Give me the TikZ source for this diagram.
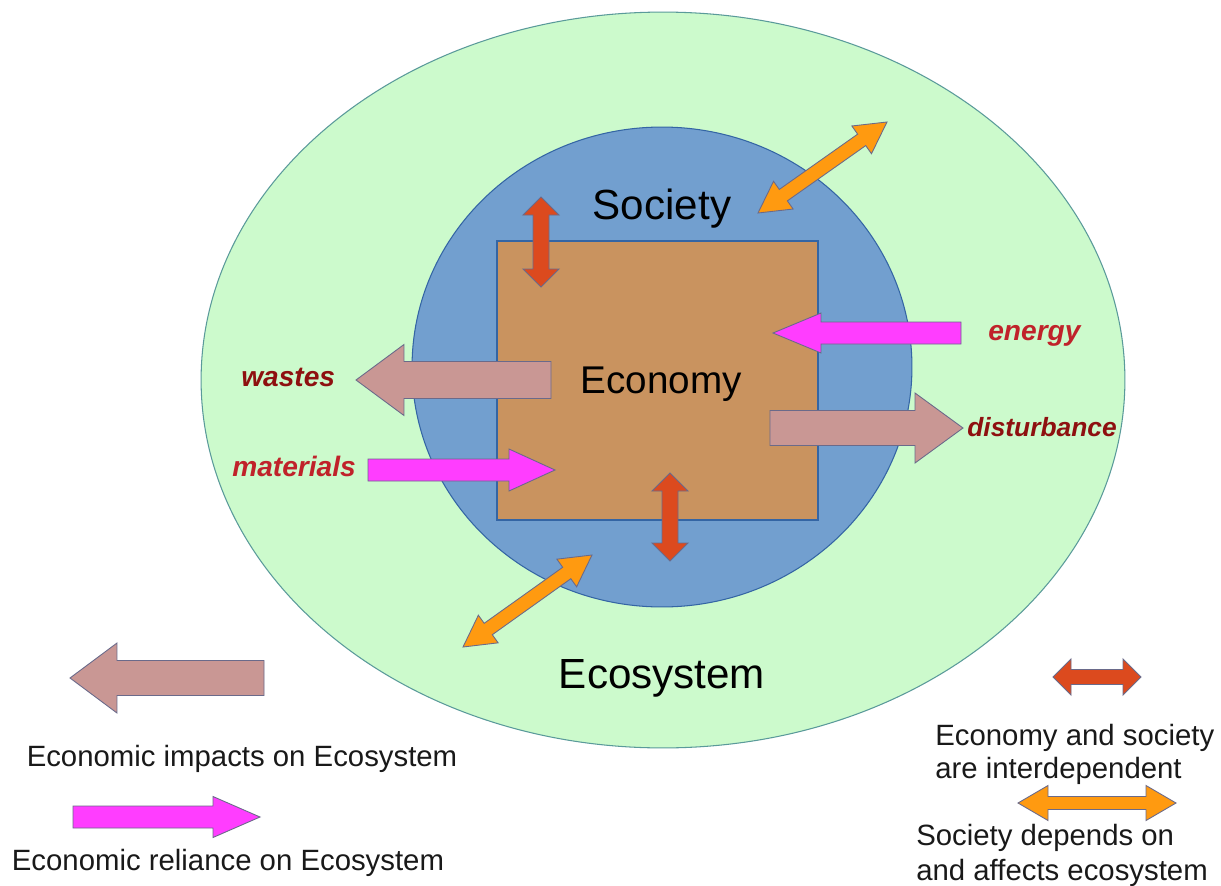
\documentclass[tikz,border=0pt]{standalone}
\usepackage{fontspec}
\setmainfont{Liberation Sans}
\usetikzlibrary{calc}
\definecolor{ecofill}{HTML}{CCFACC}
\definecolor{ecoline}{HTML}{5A9A9A}
\definecolor{socfill}{HTML}{729FCF}
\definecolor{socline}{HTML}{3465A4}
\definecolor{econfill}{HTML}{C9935F}
\definecolor{impact}{HTML}{C99794}
\definecolor{reliance}{HTML}{FF3DFF}
\definecolor{interdep}{HTML}{DC4A1E}
\definecolor{depends}{HTML}{FF9A10}
\definecolor{arrline}{HTML}{6A6A8A}
\definecolor{darkred}{HTML}{8E1010}
\definecolor{midred}{HTML}{C0222A}
\tikzset{
  arrbox/.style={line width=0.5pt, draw=arrline},
  impactarr/.style={arrbox, fill=impact},
  reliancearr/.style={arrbox, fill=reliance},
  interarr/.style={arrbox, fill=interdep},
  dependarr/.style={arrbox, fill=depends},
  bigtxt/.style={font=\fontsize{24pt}{28pt}\selectfont, inner sep=0pt},
  flowtxt/.style={font=\fontsize{16pt}{19pt}\selectfont\bfseries\itshape, inner sep=0pt},
  legtxt/.style={font=\fontsize{16.7pt}{20pt}\selectfont, inner sep=0pt, text=black!90}
}
% single block arrow: style, tail, tip, shaft half width, head half width, head length
\newcommand{\sarr}[6]{%
  \coordinate (aT) at (#2);\coordinate (aB) at (#3);
  \coordinate (aH) at ($(aB)!#6!(aT)$);
  \filldraw[#1] ($(aT)!#4!90:(aB)$) -- ($(aH)!#4!90:(aB)$) -- ($(aH)!#5!90:(aB)$) -- (aB)
    -- ($(aH)!#5!-90:(aB)$) -- ($(aH)!#4!-90:(aB)$) -- ($(aT)!#4!-90:(aB)$) -- cycle;}
% double block arrow
\newcommand{\darr}[6]{%
  \coordinate (aT) at (#2);\coordinate (aB) at (#3);
  \coordinate (aH) at ($(aB)!#6!(aT)$);\coordinate (aG) at ($(aT)!#6!(aB)$);
  \filldraw[#1] (aT) -- ($(aG)!#5!90:(aB)$) -- ($(aG)!#4!90:(aB)$) -- ($(aH)!#4!90:(aB)$)
    -- ($(aH)!#5!90:(aB)$) -- (aB) -- ($(aH)!#5!-90:(aB)$) -- ($(aH)!#4!-90:(aB)$)
    -- ($(aG)!#4!-90:(aB)$) -- ($(aG)!#5!-90:(aB)$) -- cycle;}
\begin{document}
\begin{tikzpicture}[x=0.02cm,y=-0.02cm]
\useasboundingbox[fill=white] (0,0) rectangle (1221,886);
% ecosystem, society, economy
\filldraw[fill=ecofill, draw=ecoline, line width=0.6pt] (663,380) ellipse [x radius=9.24cm, y radius=7.36cm];
\filldraw[fill=socfill, draw=socline, line width=0.6pt] (662,367) ellipse [x radius=5cm, y radius=4.8cm];
\filldraw[fill=econfill, draw=socline, line width=0.6pt] (497,241) rectangle (818,520);
\node[bigtxt, anchor=base] (society) at (662,219) {Society};
\node[bigtxt, anchor=base, font=\fontsize{22pt}{26pt}\selectfont] (economy) at (661,393) {Economy};
\node[bigtxt, anchor=base] (ecosystem) at (662,688) {Ecosystem};
% flows
\coordinate (energyTail) at (961,333); \coordinate (energyTip) at (773,333);
\sarr{reliancearr}{energyTail}{energyTip}{0.22cm}{0.4cm}{0.96cm}
\coordinate (distTail) at (770,428); \coordinate (distTip) at (963,428);
\sarr{impactarr}{distTail}{distTip}{0.35cm}{0.7cm}{0.96cm}
\coordinate (wasteTail) at (551,380); \coordinate (wasteTip) at (356,380);
\sarr{impactarr}{wasteTail}{wasteTip}{0.37cm}{0.71cm}{0.96cm}
\coordinate (matTail) at (368,470); \coordinate (matTip) at (555,470);
\sarr{reliancearr}{matTail}{matTip}{0.22cm}{0.42cm}{0.92cm}
% interdependence arrows
\coordinate (iTopA) at (541,197); \coordinate (iTopB) at (541,287);
\darr{interarr}{iTopA}{iTopB}{0.16cm}{0.36cm}{0.36cm}
\coordinate (iBotA) at (670,473); \coordinate (iBotB) at (670,561);
\darr{interarr}{iBotA}{iBotB}{0.16cm}{0.36cm}{0.36cm}
\coordinate (dTopA) at (758,213); \coordinate (dTopB) at (887,122);
\darr{dependarr}{dTopA}{dTopB}{0.14cm}{0.34cm}{0.62cm}
\coordinate (dBotA) at (463,647); \coordinate (dBotB) at (592,555);
\darr{dependarr}{dBotA}{dBotB}{0.14cm}{0.34cm}{0.62cm}
% flow labels
\node[flowtxt, text=midred, anchor=base west] (energy) at (988,340) {energy};
\node[flowtxt, text=darkred, anchor=base west, font=\fontsize{15pt}{18pt}\selectfont\bfseries\itshape] (disturbance) at (967,436) {disturbance};
\node[flowtxt, text=darkred, anchor=base west] (wastes) at (241,386) {wastes};
\node[flowtxt, text=midred, anchor=base west] (materials) at (232,476) {materials};
% legend
\coordinate (legImpTail) at (264,678); \coordinate (legImpTip) at (70,678);
\sarr{impactarr}{legImpTail}{legImpTip}{0.35cm}{0.7cm}{0.94cm}
\node[legtxt, anchor=base] (legImp) at (242,766) {Economic impacts on Ecosystem};
\coordinate (legRelTail) at (73,817); \coordinate (legRelTip) at (260,817);
\sarr{reliancearr}{legRelTail}{legRelTip}{0.22cm}{0.41cm}{0.94cm}
\node[legtxt, anchor=base] (legRel) at (228,870) {Economic reliance on Ecosystem};
\coordinate (legIntA) at (1053,677); \coordinate (legIntB) at (1141,677);
\darr{interarr}{legIntA}{legIntB}{0.15cm}{0.36cm}{0.36cm}
\node[legtxt, anchor=base west] (legInt1) at (935,745) {Economy and society};
\node[legtxt, anchor=base west] (legInt2) at (935,778) {are interdependent};
\coordinate (legDepA) at (1018,803); \coordinate (legDepB) at (1176,803);
\darr{dependarr}{legDepA}{legDepB}{0.13cm}{0.35cm}{0.6cm}
\node[legtxt, anchor=base west] (legDep1) at (916,845) {Society depends on};
\node[legtxt, anchor=base west] (legDep2) at (916,880) {and affects ecosystem};
\end{tikzpicture}
\end{document}
